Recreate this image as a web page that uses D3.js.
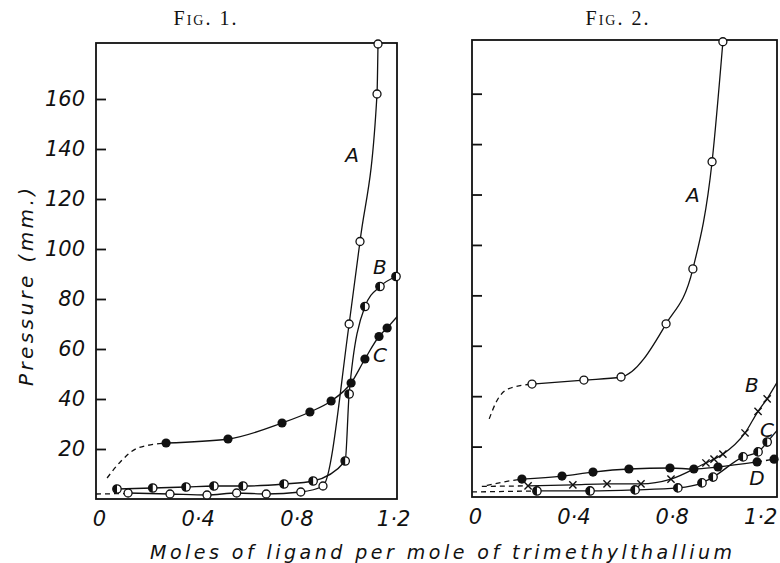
<!DOCTYPE html>
<html>
<head>
<meta charset="utf-8">
<script src="https://cdn.jsdelivr.net/npm/d3@7"></script>
<style>
  body { margin: 0; background: #fff; }
  .lbl { font-family: "DejaVu Sans", sans-serif; font-style: italic; fill: #111; }
  .fig { font-family: "Liberation Serif", serif; font-variant: small-caps; fill: #111; }
</style>
</head>
<body>
<svg id="chart"></svg>
<script>
const width = 780;
const height = 563;

// axis ticks
const xTicks = [0, 0.4, 0.8, 1.2];
const xTickLabels = ["0", "0·4", "0·8", "1·2"];
const yTicks = [20, 40, 60, 80, 100, 120, 140, 160];

// Fig. 1 — [moles ligand, pressure mm]
const fig1A = [[0.13, 2.4], [0.30, 2.0], [0.45, 1.6], [0.57, 2.4], [0.69, 2.0], [0.83, 2.8], [0.92, 5.2], [1.026, 70], [1.07, 103], [1.139, 162], [1.143, 182]];
const fig1ADash = [[0.0, 2.0], [0.13, 2.2]];
const fig1B = [[0.085, 4.0], [0.23, 4.4], [0.365, 4.8], [0.478, 5.2], [0.596, 5.2], [0.762, 6.0], [0.88, 7.2], [1.01, 15.2], [1.026, 42], [1.09, 77], [1.151, 85], [1.216, 89]];
const fig1C = [[0.284, 22.4], [0.535, 24], [0.754, 30.4], [0.867, 34.8], [0.953, 39.2], [1.034, 46.4], [1.09, 56], [1.147, 65], [1.18, 68.4]];
const fig1CDash = [[0.045, 8.4], [0.10, 15], [0.17, 20.4], [0.284, 22.4]];
const fig1CTail = [[1.18, 68.4], [1.23, 74]];

// Fig. 2
const fig2A = [[0.244, 44.8], [0.455, 46.4], [0.606, 47.6], [0.789, 68.7], [0.898, 90.5], [0.976, 133], [1.02, 180.6]];
const fig2ADash = [[0.07, 31], [0.10, 38], [0.15, 43], [0.244, 44.8]];
const fig2B = [[0.228, 4.4], [0.41, 4.8], [0.549, 5.2], [0.687, 5.2], [0.809, 7.1], [0.951, 13.5], [0.984, 15], [1.02, 17], [1.11, 25.4], [1.163, 34], [1.2, 38.9]];
const fig2BDash = [[0.04, 4.2], [0.228, 4.4]];
const fig2BTail = [[1.2, 38.9], [1.25, 47]];
const fig2C = [[0.264, 2.4], [0.48, 2.4], [0.663, 2.8], [0.837, 3.6], [0.935, 5.6], [0.98, 7.9], [1.102, 15.9], [1.163, 17.9], [1.2, 21.8]];
const fig2CDash = [[0.0, 2.0], [0.264, 2.4]];
const fig2CTail = [[1.2, 21.8], [1.25, 27.5]];
const fig2D = [[0.203, 7.1], [0.366, 8.3], [0.492, 9.9], [0.638, 11.1], [0.805, 11.5], [0.902, 11.1], [1.0, 11.9], [1.159, 13.9]];
const fig2DDash = [[0.06, 4.6], [0.13, 6.0], [0.203, 7.1]];
const fig2DTail = [[1.159, 13.9], [1.228, 15]];

// curve letters [text, x, y] in data units
const fig1Letters = [["A", 1.038, 137.6], ["B", 1.151, 92.8], ["C", 1.151, 57.6]];
const fig2Letters = [["A", 0.898, 119.8], ["B", 1.138, 44.4], ["C", 1.199, 26.6], ["D", 1.159, 7.5]];

const svg = d3.select("#chart").attr("width", width).attr("height", height);

const line = (x, y) =>
  d3.line().curve(d3.curveMonotoneX).x((d) => x(d[0])).y((d) => y(d[1]));

function drawMarker(g, type, cx, cy) {
  if (type === "open") {
    g.append("circle").attr("cx", cx).attr("cy", cy).attr("r", 4)
      .attr("fill", "#fff").attr("stroke", "#111").attr("stroke-width", 1.3);
  } else if (type === "filled") {
    g.append("circle").attr("cx", cx).attr("cy", cy).attr("r", 4.6).attr("fill", "#111");
  } else if (type === "half") {
    g.append("circle").attr("cx", cx).attr("cy", cy).attr("r", 4.2)
      .attr("fill", "#fff").attr("stroke", "#111").attr("stroke-width", 1.3);
    g.append("path")
      .attr("d", `M${cx},${cy - 4.2} A4.2,4.2 0 0 0 ${cx},${cy + 4.2} Z`)
      .attr("fill", "#111");
  } else if (type === "cross") {
    const s = 3.6;
    g.append("path")
      .attr("d", `M${cx - s},${cy - s}L${cx + s},${cy + s}M${cx - s},${cy + s}L${cx + s},${cy - s}`)
      .attr("stroke", "#111").attr("stroke-width", 1.4);
  }
}

function drawPanel(id, cfg, series, letters, showYLabels, title) {
  const x = d3.scaleLinear().domain([0, cfg.xMax]).range([cfg.left, cfg.right]);
  const y = d3.scaleLinear().domain([0, cfg.yMax]).range([cfg.bottom, cfg.top]);
  const g = svg.append("g");

  g.append("clipPath").attr("id", "clip" + id)
    .append("rect")
    .attr("x", cfg.left).attr("y", cfg.top)
    .attr("width", cfg.right - cfg.left).attr("height", cfg.bottom - cfg.top);

  // frame
  g.append("rect")
    .attr("x", cfg.left).attr("y", cfg.top)
    .attr("width", cfg.right - cfg.left).attr("height", cfg.bottom - cfg.top)
    .attr("fill", "none").attr("stroke", "#111").attr("stroke-width", 1.8);

  // y ticks pointing inward
  const yAxis = g.append("g")
    .attr("transform", `translate(${cfg.left},0)`)
    .call(
      d3.axisLeft(y).tickValues(yTicks).tickSizeInner(-10).tickSizeOuter(0)
        .tickPadding(11).tickFormat(showYLabels ? d3.format("d") : () => "")
    );
  yAxis.select(".domain").remove();
  yAxis.selectAll("line").attr("stroke", "#111").attr("stroke-width", 1.8);
  yAxis.selectAll("text").attr("class", "lbl").attr("font-size", 21).attr("fill", "#111");

  // x tick labels
  const xAxis = g.append("g")
    .attr("transform", `translate(0,${cfg.bottom})`)
    .call(
      d3.axisBottom(x).tickValues(xTicks).tickSize(0).tickPadding(12)
        .tickFormat((d, i) => xTickLabels[i])
    );
  xAxis.select(".domain").remove();
  xAxis.selectAll("text").attr("class", "lbl").attr("font-size", 21)
    .attr("fill", "#111")
    .attr("dx", (d) => (d === 1.2 ? cfg.lastDx : 3));

  const lines = g.append("g").attr("clip-path", `url(#clip${id})`);
  series.forEach((s) => {
    lines.append("path").datum(s.points).attr("d", line(x, y))
      .attr("fill", "none").attr("stroke", "#111").attr("stroke-width", 1.3);
    if (s.dash) {
      lines.append("path").datum(s.dash).attr("d", line(x, y))
        .attr("fill", "none").attr("stroke", "#111").attr("stroke-width", 1.3)
        .attr("stroke-dasharray", "5,4");
    }
    if (s.tail) {
      lines.append("path").datum(s.tail).attr("d", line(x, y))
        .attr("fill", "none").attr("stroke", "#111").attr("stroke-width", 1.3)
        .attr("stroke-dasharray", s.tailDashed ? "5,4" : null);
    }
  });

  const marks = g.append("g");
  series.forEach((s) => {
    const pts = s.tailDashed ? s.points.concat(s.tail.slice(1)) : s.points;
    pts.forEach((d) => drawMarker(marks, s.marker, x(d[0]), y(d[1])));
  });

  g.selectAll(".letter").data(letters).enter().append("text")
    .attr("class", "lbl letter")
    .attr("x", (d) => x(d[1])).attr("y", (d) => y(d[2]))
    .attr("dy", "0.36em").attr("text-anchor", "middle")
    .attr("font-size", 20)
    .text((d) => d[0]);

  svg.append("text").attr("class", "fig")
    .attr("x", cfg.titleX).attr("y", 25)
    .attr("text-anchor", "middle").attr("font-size", 20)
    .attr("letter-spacing", 2)
    .text(title);
}

drawPanel(1, { left: 96, right: 397, top: 43, bottom: 499, xMax: 1.22, yMax: 182.4, titleX: 206, lastDx: 1 }, [
  { points: fig1A, dash: fig1ADash, marker: "open" },
  { points: fig1B, marker: "half" },
  { points: fig1C, dash: fig1CDash, tail: fig1CTail, marker: "filled" },
], fig1Letters, true, "Fig. 1.");

drawPanel(2, { left: 472, right: 777, top: 40, bottom: 497, xMax: 1.24, yMax: 181.3, titleX: 618, lastDx: -7 }, [
  { points: fig2A, dash: fig2ADash, marker: "open" },
  { points: fig2B, dash: fig2BDash, tail: fig2BTail, marker: "cross" },
  { points: fig2C, dash: fig2CDash, tail: fig2CTail, marker: "half" },
  { points: fig2D, dash: fig2DDash, tail: fig2DTail, tailDashed: true, marker: "filled" },
], fig2Letters, false, "Fig. 2.");

// axis titles
svg.append("text").attr("class", "lbl")
  .attr("transform", "translate(33,287) rotate(-90)")
  .attr("text-anchor", "middle").attr("font-size", 20)
  .attr("textLength", 198).attr("lengthAdjust", "spacing")
  .text("Pressure (mm.)");

svg.append("text").attr("class", "lbl")
  .attr("x", 150).attr("y", 559)
  .attr("font-size", 19)
  .attr("textLength", 582).attr("lengthAdjust", "spacing")
  .text("Moles of ligand per mole of trimethylthallium");
</script>
</body>
</html>
